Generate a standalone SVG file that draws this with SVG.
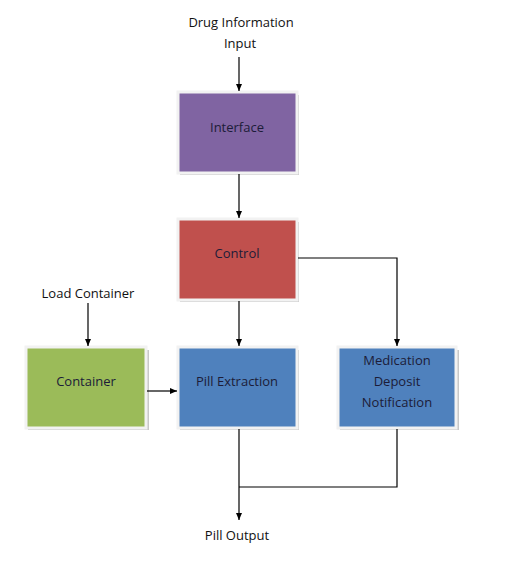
<svg xmlns="http://www.w3.org/2000/svg" width="524" height="576" viewBox="0 0 524 576">
<defs>
<marker id="ah" markerWidth="8" markerHeight="8" refX="7" refY="4" orient="auto" markerUnits="userSpaceOnUse">
<path d="M0,1 L7,4 L0,7 z" fill="#000"/>
</marker>
<style>
text{font-family:"Open Sans","Liberation Sans",Arial,sans-serif;font-size:13px;fill:#111;text-anchor:middle}
.in{fill:#1c1c38}
.box{stroke:#f2f2f2;stroke-width:3}
.sh{fill:#c8c8c8}
.c{fill:none;stroke:#000;stroke-width:1.2}
</style>
</defs>
<rect width="524" height="576" fill="#fff"/>
<text x="241" y="27">Drug Information</text>
<text x="240" y="48">Input</text>
<text x="88" y="298">Load Container</text>
<text x="237" y="540">Pill Output</text>
<g id="interface">
<rect class="sh" x="180" y="95" width="119" height="80"/>
<rect class="box" x="178" y="92" width="119" height="81" fill="#8064A2"/>
<text class="in" x="237" y="132">Interface</text>
</g>
<g id="control">
<rect class="sh" x="180" y="222" width="119" height="80"/>
<rect class="box" x="178" y="219" width="119" height="81" fill="#C0504D"/>
<text class="in" x="237" y="258">Control</text>
</g>
<g id="container">
<rect class="sh" x="28" y="350" width="121" height="80"/>
<rect class="box" x="26" y="347" width="120" height="81" fill="#9BBB59"/>
<text class="in" x="86" y="386">Container</text>
</g>
<g id="pill">
<rect class="sh" x="180" y="350" width="119" height="80"/>
<rect class="box" x="178" y="347" width="119" height="81" fill="#4F81BD"/>
<text class="in" x="237" y="386">Pill Extraction</text>
</g>
<g id="medication">
<rect class="sh" x="340" y="350" width="119" height="80"/>
<rect class="box" x="338" y="347" width="118" height="81" fill="#4F81BD"/>
<text class="in" x="397" y="365">Medication</text>
<text class="in" x="397" y="386">Deposit</text>
<text class="in" x="397" y="407">Notification</text>
</g>
<g id="connectors">
<line class="c" x1="239" y1="57" x2="239" y2="91" marker-end="url(#ah)"/>
<line class="c" x1="239" y1="174" x2="239" y2="218" marker-end="url(#ah)"/>
<line class="c" x1="239" y1="301" x2="239" y2="346" marker-end="url(#ah)"/>
<polyline class="c" points="298,258 397,258 397,346" marker-end="url(#ah)"/>
<line class="c" x1="88" y1="303" x2="88" y2="346" marker-end="url(#ah)"/>
<line class="c" x1="147" y1="391" x2="177" y2="391" marker-end="url(#ah)"/>
<line class="c" x1="239" y1="429" x2="239" y2="520" marker-end="url(#ah)"/>
<polyline class="c" points="397,429 397,487 239,487"/>
</g>
</svg>
